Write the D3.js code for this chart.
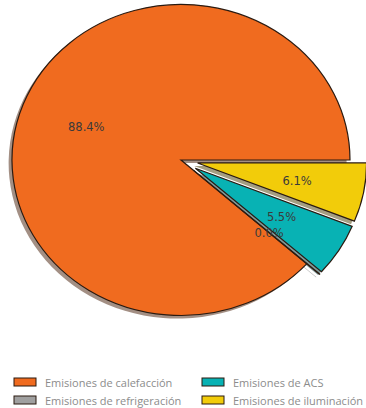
<!DOCTYPE html>
<html>
<head>
<meta charset="utf-8">
<script src="https://cdn.jsdelivr.net/npm/d3@7"></script>
<style>
  html, body { margin: 0; padding: 0; background: #fff; }
</style>
</head>
<body>
<div class="pie-chart"></div>
<script>
var categories = ['Emisiones de calefacción', 'Emisiones de refrigeración', 'Emisiones de ACS', 'Emisiones de iluminación'];
var values = [88.4, 0.04, 5.5, 6.1];
var explode = [0, 0.1, 0.1, 0.1];
var colors = ['#f06b1f', '#a0a0a0', '#08b2b4', '#f2cc0a'];

var width = 366, height = 408;
var cx = 181, cy = 160, rx = 169, ry = 155.5;
var edgeColor = '#2a1a10',
	labelColor = '#3a3a3a',
	legendTextColor = '#8c8c8c';

var svg = d3.select('.pie-chart').append('svg')
	.attr('width', width)
	.attr('height', height);

// matplotlib style: start at 3 o'clock, go counterclockwise
var pie = d3.pie().sort(null)
	.startAngle(Math.PI / 2)
	.endAngle(Math.PI / 2 - 2 * Math.PI);
var arcs = pie(values);
var total = d3.sum(values);

var arc = d3.arc().innerRadius(0).outerRadius(1);

function dir(d) {
	var a = (d.startAngle + d.endAngle) / 2;
	return [Math.sin(a), -Math.cos(a)];
}

function shade(c) {
	var rgb = d3.rgb(c);
	return d3.rgb(rgb.r * 0.3, rgb.g * 0.3, rgb.b * 0.3).toString();
}

// unit-circle group stretched into the ellipse
var unit = svg.append('g')
	.attr('transform', 'translate(' + cx + ',' + cy + ') scale(' + rx + ',' + ry + ')');

// shadows first, under all wedges
unit.selectAll('path.shadow').data(arcs).enter().append('path')
	.attr('class', 'shadow')
	.attr('transform', function(d, i) {
		var v = dir(d);
		return 'translate(' + (v[0] * explode[i] - 0.02) + ',' + (v[1] * explode[i] + 0.02) + ')';
	})
	.attr('d', arc)
	.attr('fill', function(d, i) { return shade(colors[i]); })
	.attr('fill-opacity', 0.5);

unit.selectAll('path.wedge').data(arcs).enter().append('path')
	.attr('class', 'wedge')
	.attr('transform', function(d, i) {
		var v = dir(d);
		return 'translate(' + (v[0] * explode[i]) + ',' + (v[1] * explode[i]) + ')';
	})
	.attr('d', arc)
	.attr('fill', function(d, i) { return colors[i]; })
	.attr('stroke', edgeColor)
	.attr('stroke-width', 1.2)
	.attr('stroke-linejoin', 'miter')
	.attr('vector-effect', 'non-scaling-stroke');

// percentage labels (pctdistance 0.6 from the exploded centre)
svg.selectAll('text.pct').data(arcs).enter().append('text')
	.attr('class', 'pct')
	.attr('x', function(d, i) { return cx + dir(d)[0] * (explode[i] + 0.6) * rx; })
	.attr('y', function(d, i) { return cy + dir(d)[1] * (explode[i] + 0.6) * ry; })
	.attr('text-anchor', 'middle')
	.attr('dominant-baseline', 'central')
	.attr('font-family', 'DejaVu Sans, sans-serif')
	.attr('font-size', '11.5px')
	.attr('fill', labelColor)
	.text(function(d) { return (d.value / total * 100).toFixed(1) + '%'; });

// legend, two columns, filled column by column
var legend = svg.append('g').attr('font-family', 'Open Sans, sans-serif').attr('font-size', '11px');
var colX = [14, 202], rowY = [382, 400];
categories.forEach(function(c, i) {
	var col = Math.floor(i / 2), row = i % 2;
	legend.append('rect')
		.attr('x', colX[col])
		.attr('y', rowY[row] - 4)
		.attr('width', 22)
		.attr('height', 8)
		.attr('fill', colors[i])
		.attr('stroke', edgeColor)
		.attr('stroke-width', 1);
	legend.append('text')
		.attr('x', colX[col] + 31)
		.attr('y', rowY[row])
		.attr('dominant-baseline', 'central')
		.attr('fill', legendTextColor)
		.text(c);
});
</script>
</body>
</html>
